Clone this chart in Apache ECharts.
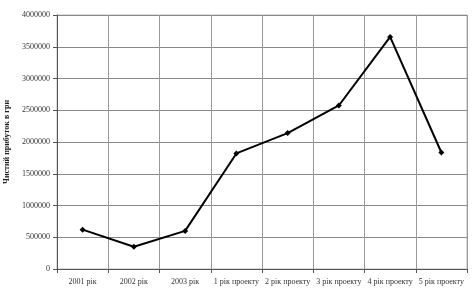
<!DOCTYPE html>
<html><head><meta charset="utf-8">
<script src="https://cdn.jsdelivr.net/npm/echarts@6/dist/echarts.min.js"></script>
<style>html,body{margin:0;padding:0;background:#fff}#c{width:475px;height:296px}</style>
</head><body><div id="c"></div>
<script>
const categories = ['2001 рік','2002 рік','2003 рік','1 рік проекту','2 рік проекту','3 рік проекту','4 рік проекту','5 рік проекту'];
const profit = [620000, 350000, 600000, 1820000, 2140000, 2575000, 3655000, 1835000];
const yName = 'Чистий прибуток в грн';
const chart = echarts.init(document.getElementById('c'));
const font = '"Liberation Serif","Times New Roman",serif';
chart.setOption({
  animation: false,
  grid: {left: 57, right: 8, top: 15, bottom: 27, show: true, borderColor: '#bbb', borderWidth: 1, containLabel: false, outerBoundsMode: 'none'},
  xAxis: {
    type: 'category', data: categories, boundaryGap: true,
    axisLine: {lineStyle: {color: '#555', width: 1}},
    axisTick: {show: true, alignWithLabel: false, length: 4, lineStyle: {color: '#555'}},
    axisLabel: {color: '#333', fontFamily: font, fontSize: 8, margin: 9, interval: 0},
    splitLine: {show: true, lineStyle: {color: '#999', width: 1}}
  },
  yAxis: {
    type: 'value', min: 0, max: 4000000, interval: 500000,
    name: yName, nameLocation: 'middle', nameGap: 39, nameRotate: 90,
    nameTextStyle: {fontFamily: font, fontSize: 8, fontWeight: 'bold', color: '#222'},
    axisLine: {show: true, lineStyle: {color: '#555', width: 1}},
    axisTick: {show: true, length: 4, lineStyle: {color: '#555'}},
    axisLabel: {color: '#333', fontFamily: font, fontSize: 8, margin: 7, formatter: v => String(v)},
    splitLine: {show: true, lineStyle: {color: '#888', width: 1}}
  },
  series: [{
    type: 'line', data: profit,
    symbol: 'diamond', symbolSize: 6,
    lineStyle: {color: '#000', width: 2},
    itemStyle: {color: '#000'}
  }]
});
</script></body></html>
